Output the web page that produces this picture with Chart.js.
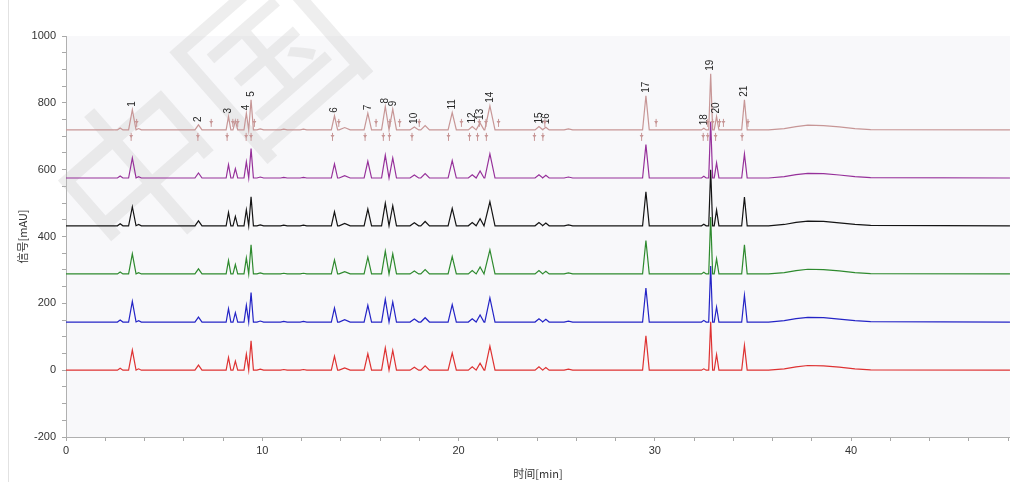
<!DOCTYPE html>
<html>
<head>
<meta charset="utf-8">
<script src="https://cdn.jsdelivr.net/npm/chart.js@4.4.1/dist/chart.umd.min.js"></script>
<style>
  html, body { margin: 0; padding: 0; background: #ffffff; }
  #wrap { position: relative; width: 1011px; height: 482px; }
</style>
</head>
<body>
<div id="wrap"><canvas id="c"></canvas></div>
<script>
// ---- Data ----
const peakTimes  = [2.76, 3.38, 3.70, 6.75, 8.28, 8.63, 9.19, 9.43, 9.90, 11.10, 12.10, 13.68, 14.20, 15.38, 16.27, 16.65, 17.75, 18.30, 19.68, 20.70, 21.10, 21.60, 24.10, 24.45, 25.60, 29.55, 32.50, 32.85, 33.15, 34.57];
const peakWidths = [0.14, 0.19, 0.14, 0.18, 0.12, 0.12, 0.12, 0.12, 0.17, 0.17, 0.17, 0.16, 0.28, 0.19, 0.19, 0.19, 0.22, 0.22, 0.21, 0.20, 0.20, 0.26, 0.20, 0.17, 0.22, 0.17, 0.12, 0.10, 0.12, 0.14];

const redHeights    = [6, 60, 4, 15, 38, 27, 48, 88, 3, 2, 2, 42, 7, 49, 67, 59, 9, 13, 51, 10, 21, 72, 10, 8, 3, 103, 4, 145, 47, 74];
const blueHeights   = [6, 62, 4, 15, 40, 28, 50, 88, 3, 2, 2, 42, 7, 50, 68, 60, 9, 13, 52, 10, 21, 72, 10, 8, 3, 102, 5, 168, 45, 80];
const greenHeights  = [6, 60, 4, 15, 40, 28, 48, 87, 3, 2, 2, 42, 7, 50, 68, 60, 9, 13, 52, 10, 21, 72, 10, 8, 3, 100, 5, 170, 45, 87];
const blackHeights  = [6, 57, 4, 15, 40, 28, 48, 87, 3, 2, 2, 42, 7, 50, 68, 60, 9, 13, 52, 10, 21, 72, 10, 8, 3, 102, 5, 168, 47, 86];
const purpleHeights = [6, 60, 4, 15, 40, 28, 48, 88, 3, 2, 2, 42, 7, 50, 68, 60, 9, 13, 52, 10, 21, 72, 10, 8, 3, 100, 5, 168, 45, 72];
const pinkHeights   = [6, 60, 4, 15, 40, 28, 50, 90, 3, 2, 2, 42, 7, 50, 70, 62, 9, 13, 52, 10, 21, 72, 10, 8, 3, 102, 5, 168, 40, 90];

const seriesOffsets = [719, 575, 432, 288, 144, 0];   // pink, purple, black, green, blue, red
const seriesColors  = ['#c79696', '#96309a', '#141414', '#2e8a2e', '#2424c6', '#de3232'];
const seriesNames   = ['7', '6', '5', '4', '3', '2'];

const driftTimes  = [0, 35.8, 36.6, 37.2, 37.8, 38.6, 39.4, 40.2, 41.0, 48.1];
const driftValues = [0, 0, 4, 10, 14, 13, 9, 4, 1, 0];

const labelTexts = ['1','2','3','4','5','6','7','8','9','10','11','12','13','14','15','16','17','18','19','20','21'];
const labelPeakIndex = [1, 3, 4, 6, 7, 11, 13, 14, 15, 16, 18, 19, 20, 21, 22, 23, 25, 26, 27, 28, 29];

const startMarks = [3.32, 6.72, 8.21, 9.18, 9.43, 13.58, 15.24, 16.17, 16.48, 17.63, 19.49, 20.56, 20.97, 21.42, 23.87, 24.30, 29.33, 32.47, 32.70, 33.10, 34.45];
const endMarks   = [3.60, 7.40, 8.50, 8.75, 9.60, 13.90, 15.80, 16.50, 17.00, 18.00, 20.15, 21.06, 21.40, 22.04, 24.40, 30.07, 32.70, 32.95, 33.30, 33.50, 34.75];

const xTickValues = [0,2,4,6,8,10,12,14,16,18,20,22,24,26,28,30,32,34,36,38,40,42,44,46,48];
const yTickValues = [];
for (let v = -200; v <= 1000; v += 50) yTickValues.push(v);

// ---- Build traces from the peak table ----
function buildTrace(heights, offset) {
  const xs = new Set();
  driftTimes.forEach(t => xs.add(t));
  peakTimes.forEach((t, i) => { xs.add(+(t - peakWidths[i]).toFixed(3)); xs.add(t); xs.add(+(t + peakWidths[i]).toFixed(3)); });
  const sorted = Array.from(xs).sort((a, b) => a - b);
  return sorted.map(x => {
    let y = offset;
    for (let k = 0; k < driftTimes.length - 1; k++) {
      if (x >= driftTimes[k] && x <= driftTimes[k + 1]) {
        const f = (x - driftTimes[k]) / (driftTimes[k + 1] - driftTimes[k]);
        y += driftValues[k] + f * (driftValues[k + 1] - driftValues[k]);
        break;
      }
    }
    peakTimes.forEach((t, i) => {
      const d = Math.abs(x - t);
      if (d < peakWidths[i]) y += heights[i] * (1 - d / peakWidths[i]);
    });
    return { x, y };
  });
}

const allHeights = [pinkHeights, purpleHeights, blackHeights, greenHeights, blueHeights, redHeights];
const datasets = allHeights.map((h, i) => ({
  label: seriesNames[i],
  data: buildTrace(h, seriesOffsets[i]),
  borderColor: seriesColors[i],
  borderWidth: 1.2,
  pointRadius: 0,
  tension: 0,
  fill: false
}));

const FONT = 'Liberation Sans, Arial, sans-serif';

const bgPlugin = {
  id: 'bg',
  beforeDraw(chart) {
    const { ctx, chartArea: a } = chart;
    ctx.save();
    ctx.fillStyle = '#f8f8fa';
    ctx.fillRect(a.left, a.top, a.right - a.left, a.bottom - a.top);
    ctx.strokeStyle = '#e2e2e2';
    ctx.lineWidth = 1;
    ctx.beginPath(); ctx.moveTo(8.5, 0); ctx.lineTo(8.5, 482); ctx.stroke();
    ctx.restore();
  },
  beforeDatasetsDraw(chart) {
    const { ctx } = chart;
    ctx.save();
    ctx.translate(205, 115);
    ctx.rotate(-0.72);
    ctx.fillStyle = 'rgba(195,195,195,0.28)';
    ctx.font = '170px "Noto Sans CJK SC"';
    ctx.textAlign = 'center';
    ctx.textBaseline = 'middle';
    ctx.fillText('中国', 0, 0);
    ctx.restore();
  }
};

const annotPlugin = {
  id: 'annot',
  afterDatasetsDraw(chart) {
    const { ctx, scales: { x, y } } = chart;
    const base = seriesOffsets[0];
    ctx.save();
    ctx.fillStyle = '#262626';
    ctx.font = '10px ' + FONT;
    ctx.textAlign = 'left';
    ctx.textBaseline = 'middle';
    labelTexts.forEach((txt, i) => {
      const pi = labelPeakIndex[i];
      const px = x.getPixelForValue(peakTimes[pi]);
      const py = y.getPixelForValue(base + pinkHeights[pi]) - 3;
      ctx.save();
      ctx.translate(px, py);
      ctx.rotate(-Math.PI / 2);
      ctx.fillText(txt, 0, 0);
      ctx.restore();
    });
    ctx.strokeStyle = '#c79696';
    ctx.fillStyle = '#c79696';
    ctx.lineWidth = 1;
    const by = y.getPixelForValue(base);
    const arrow = (px, y0, y1) => {
      ctx.beginPath(); ctx.moveTo(px, y0); ctx.lineTo(px, y1); ctx.stroke();
      const m = (y0 + y1) / 2, dir = y1 > y0 ? 1 : -1;
      ctx.beginPath(); ctx.moveTo(px - 2, m - 2 * dir); ctx.lineTo(px + 2, m - 2 * dir); ctx.lineTo(px, m + 1 * dir); ctx.closePath(); ctx.fill();
    };
    startMarks.forEach(t => { const px = x.getPixelForValue(t); arrow(px, by + 3, by + 11); });
    endMarks.forEach(t => { const px = x.getPixelForValue(t); arrow(px, by - 11, by - 3); });
    ctx.restore();
  }
};

new Chart(document.getElementById('c'), {
  type: 'line',
  data: { datasets },
  options: {
    responsive: true,
    maintainAspectRatio: false,
    animation: false,
    layout: { padding: { top: 36, right: 0, left: 0, bottom: 0 } },
    plugins: { legend: { display: false }, tooltip: { enabled: false } },
    scales: {
      x: {
        type: 'linear', min: 0, max: 48.1,
        afterBuildTicks: s => { s.ticks = xTickValues.map(v => ({ value: v })); },
        afterFit: s => { s.height = 45; },
        ticks: {
          autoSkip: false, maxRotation: 0, padding: 3, color: '#333',
          font: { size: 11, family: FONT },
          callback: v => (v % 10 === 0 ? String(v) : '')
        },
        grid: { display: true, drawOnChartArea: false, drawTicks: true, tickLength: 4, color: '#a8a8a8' },
        border: { display: true, color: '#b0b0b0' },
        title: { display: true, text: '时间[min]', color: '#333', font: { size: 11, family: '"Noto Sans CJK SC", ' + FONT }, padding: { top: 0, bottom: 2 } }
      },
      y: {
        type: 'linear', min: -200, max: 1000,
        afterBuildTicks: s => { s.ticks = yTickValues.map(v => ({ value: v })); },
        afterFit: s => { s.width = 66; },
        ticks: {
          autoSkip: false, padding: 6, color: '#333',
          font: { size: 11, family: FONT },
          callback: v => (v % 200 === 0 ? String(v) : '')
        },
        grid: { display: true, drawOnChartArea: false, drawTicks: true, tickLength: 4, color: '#a8a8a8' },
        border: { display: true, color: '#b0b0b0' },
        title: { display: true, text: '信号[mAU]', color: '#333', font: { size: 11, family: '"Noto Sans CJK SC", ' + FONT }, padding: { top: 16, bottom: 0 } }
      }
    }
  },
  plugins: [bgPlugin, annotPlugin]
});
</script>
</body>
</html>
